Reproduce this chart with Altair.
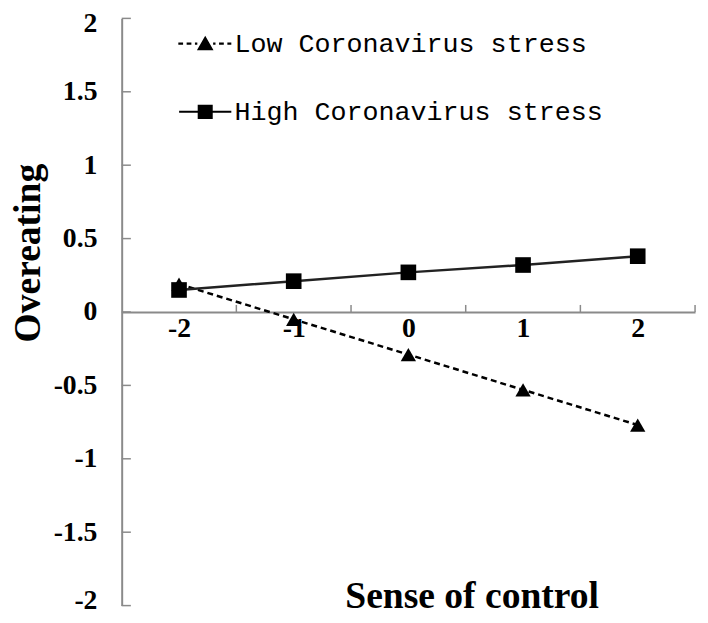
import altair as alt
import pandas as pd

sense = [-2, -1, 0, 1, 2]
low = [0.19, -0.05, -0.29, -0.53, -0.77]
high = [0.15, 0.21, 0.27, 0.32, 0.38]
series_names = ["Low Coronavirus stress", "High Coronavirus stress"]
y_ticks = [-2, -1.5, -1, -0.5, 0, 0.5, 1, 1.5, 2]
x_bounds = [-1.5, -0.5, 0.5, 1.5, 2.5]

rows = []
for s, v in zip(sense, low):
    rows.append({"x": s, "y": v, "series": series_names[0]})
for s, v in zip(sense, high):
    rows.append({"x": s, "y": v, "series": series_names[1]})
df = pd.DataFrame(rows)

AX = "#8a8a8a"
xs = alt.Scale(domain=[-2.5, 2.5], nice=False, zero=False)
ys = alt.Scale(domain=[-2, 2], nice=False, zero=False)

x_enc = alt.X("x:Q", scale=xs, axis=alt.Axis(
    values=sense, labelExpr="toString(datum.value)", grid=False, ticks=False, tickSize=0,
    domainColor=AX, domainWidth=2, offset=-297, labelPadding=3,
    labelFont="Liberation Serif", labelFontWeight="bold", labelFontSize=28, labelColor="black",
    title="Sense of control", titleFont="Liberation Serif", titleFontWeight="bold",
    titleFontSize=38, titleColor="black", titleX=354, titleY=299,
    titleBaseline="alphabetic", titleAlign="center"))
y_enc = alt.Y("y:Q", scale=ys, axis=alt.Axis(
    values=y_ticks, labelExpr="toString(datum.value)", grid=False, ticks=False, tickSize=0,
    domainColor=AX, domainWidth=2, labelPadding=25, labelFlush=True, labelFlushOffset=9,
    labelFont="Liberation Serif", labelFontWeight="bold", labelFontSize=28, labelColor="black",
    title="Overeating", titleFont="Liberation Serif", titleFontWeight="bold",
    titleFontSize=38, titleColor="black", titleX=-94, titleY=237, titleAngle=270,
    titleBaseline="middle", titleAlign="center"))

base = alt.Chart(df)
low_data = base.transform_filter(alt.datum.series == series_names[0])
high_data = base.transform_filter(alt.datum.series == series_names[1])

line_low = low_data.mark_line(color="black", strokeWidth=2.5, strokeDash=[6, 4]).encode(x=x_enc, y=y_enc)
line_high = high_data.mark_line(color="#222222", strokeWidth=2.5).encode(x="x:Q", y="y:Q")
pts_low = low_data.mark_point(filled=True, color="black", opacity=1, size=240, shape="triangle-up").encode(
    x="x:Q", y="y:Q")
pts_high = high_data.mark_point(filled=True, color="black", opacity=1, size=250, shape="square").encode(
    x="x:Q", y="y:Q")


def bar(x0, x1, h=0.13):
    return "M%.2f,%.2fL%.2f,%.2fL%.2f,%.2fL%.2f,%.2fZ" % (x0, -h, x1, -h, x1, h, x0, h)


# legend glyphs: a short line segment with the series marker in its middle (filled shapes)
p_low = (bar(-3.4, -2.8) + bar(-2.35, -1.75) + bar(-1.3, -1.0)
         + "M-1.05,0.85L1.05,0.85L0,-1.0Z"
         + bar(1.0, 1.3) + bar(1.75, 2.35) + bar(2.8, 3.3))
p_high = bar(-3.3, -0.9) + "M-0.95,-0.9L0.95,-0.9L0.95,0.9L-0.95,0.9Z" + bar(0.9, 3.3)

leg = base.transform_filter("false").mark_point(
    filled=True, color="black", opacity=1, size=256).encode(
    x="x:Q", y="y:Q",
    shape=alt.Shape("series:N", scale=alt.Scale(domain=series_names, range=[p_low, p_high]),
                    legend=alt.Legend(title=None, orient="none", legendX=71, legendY=12,
                                      labelFont="Liberation Mono", labelFontSize=27,
                                      labelColor="black", labelLimit=600, labelOffset=16,
                                      rowPadding=41, padding=0,
                                      symbolFillColor="black", symbolOpacity=1,
                                      symbolSize=256)))

ytick_df = pd.DataFrame({"y": y_ticks, "x": [-2.5] * len(y_ticks), "x2": [-2.42] * len(y_ticks)})
yticks = alt.Chart(ytick_df).mark_rule(color=AX, strokeWidth=1.5).encode(
    x="x:Q", x2="x2:Q", y="y:Q")
xtick_df = pd.DataFrame({"x": x_bounds, "y": [0] * len(x_bounds), "y2": [0.048] * len(x_bounds)})
xticks = alt.Chart(xtick_df).mark_rule(color=AX, strokeWidth=1.5).encode(
    x="x:Q", y="y:Q", y2="y2:Q")

chart = alt.layer(line_low, line_high, yticks, xticks, pts_low, pts_high, leg).properties(
    width=580, height=594,
    autosize=alt.AutoSizeParams(type="none"),
    padding={"left": 115, "top": 7, "right": 5, "bottom": 6},
    background="white",
).configure_view(stroke=None)

chart.save("out.html", embed_options={"renderer": "svg", "actions": False})
